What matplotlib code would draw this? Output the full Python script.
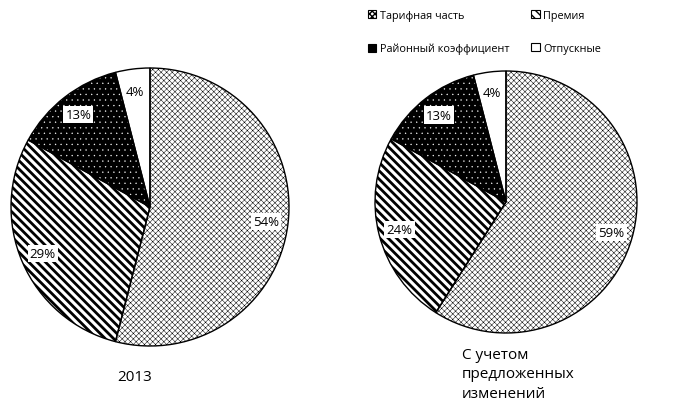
import matplotlib.pyplot as plt
from matplotlib.patches import Patch

plt.rcParams['font.family'] = ['Open Sans', 'DejaVu Sans']

# data
labels = ["Тарифная часть", "Премия", "Районный коэффициент", "Отпускные"]
share_2013 = [54, 29, 13, 4]
share_new = [59, 24, 13, 4]
title_2013 = "2013"
title_new = "С учетом\nпредложенных\nизменений"

faces = ["white", "white", "black", "white"]
hatches = ["xxxxxx", "\\\\\\\\", "...", None]
hcolors = ["black", "black", "white", "black"]
hwidths = [0.35, 2.0, 0.2, 1.0]

W, H = 689, 410
fig = plt.figure(figsize=(W / 100, H / 100), dpi=100)


def style(p, h, hc, hw):
    p.set_hatch(h)
    p.set_edgecolor(hc)
    if hasattr(p, "set_hatch_linewidth"):
        p.set_hatch_linewidth(hw)


def draw_pie(cx, cy, r, values):
    ax = fig.add_axes([(cx - r) / W, (H - cy - r) / H, 2 * r / W, 2 * r / H])
    wedges, _, autotexts = ax.pie(values, startangle=90, counterclock=False,
                                  autopct=lambda p: "%d%%" % round(p),
                                  pctdistance=0.84, colors=faces,
                                  wedgeprops=dict(lw=0),
                                  textprops=dict(fontsize=9.5))
    for w, h, hc, hw in zip(wedges, hatches, hcolors, hwidths):
        style(w, h, hc, hw)
    # black outlines on top
    ax.pie(values, startangle=90, counterclock=False,
           wedgeprops=dict(fill=False, edgecolor="black", lw=1))
    for t in autotexts:
        t.set_bbox(dict(facecolor="white", edgecolor="none", pad=1.5))
        t.set_zorder(5)
    ax.set_xlim(-1, 1)
    ax.set_ylim(-1, 1)
    ax.set_aspect("equal")
    ax.axis("off")


draw_pie(150, 208, 139, share_2013)
draw_pie(506, 203, 131, share_new)

fig.text(117 / W, 1 - 378 / H, title_2013, fontsize=11, va="center")
fig.text(462 / W, 1 - 375 / H, title_new, fontsize=11, va="center",
         linespacing=1.45)

handles = []
for f, h, hc, hw in zip(faces, hatches, hcolors, hwidths):
    p = Patch(facecolor=f, lw=0)
    style(p, h, hc, hw)
    handles.append(p)
order = [0, 2, 1, 3]
leg = fig.legend([handles[i] for i in order], [labels[i] for i in order],
                 ncol=2, loc="upper left", bbox_to_anchor=(358 / W, 1 - 1 / H),
                 frameon=False, fontsize=7.8, handlelength=0.75,
                 handleheight=0.8, handletextpad=0.35, labelspacing=2.05,
                 columnspacing=2.05)
for p, i in zip(leg.get_patches(), order):
    p.set_edgecolor("black")
    p.set_linewidth(0.8)

fig.savefig("out.png", dpi=100)
